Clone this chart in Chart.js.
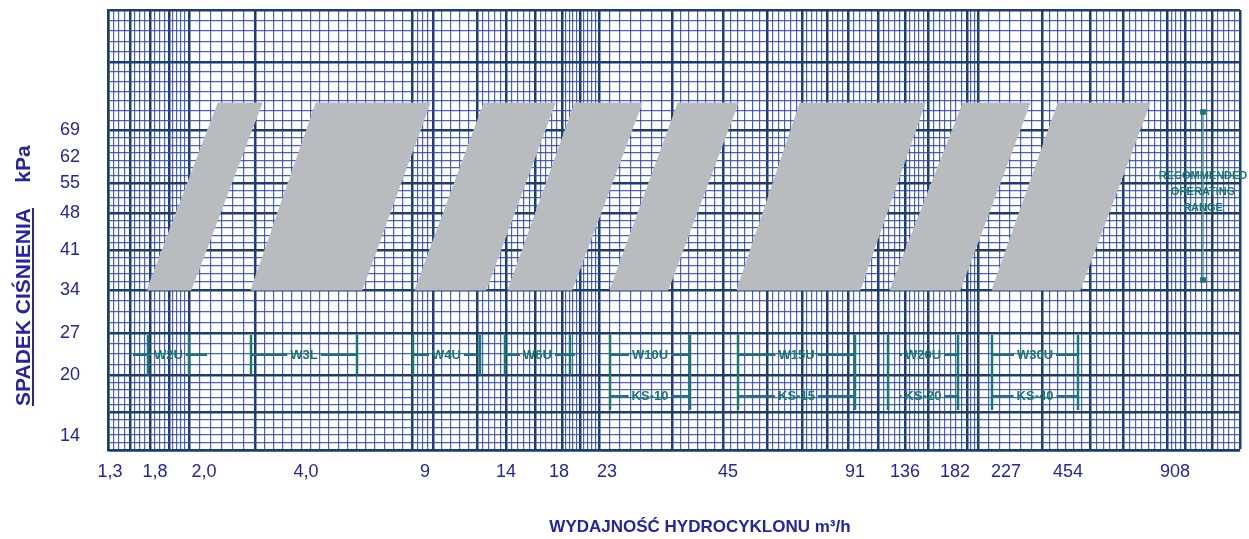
<!DOCTYPE html>
<html>
<head>
<meta charset="utf-8">
<script src="https://cdn.jsdelivr.net/npm/chart.js@4.4.1/dist/chart.umd.min.js"></script>
<style>
  html, body { margin: 0; padding: 0; background: #fff; }
  #wrap { width: 1249px; height: 539px; }
</style>
</head>
<body>
<div id="wrap"><canvas id="chart" width="1249" height="539"></canvas></div>
<script>
// paper units: x runs 0..1132 across the grid, y runs 0..440 up from the bottom edge

const xTickLabels = ["1,3", "1,8", "2,0", "4,0", "9", "14", "18", "23", "45", "91", "136", "182", "227", "454", "908"];
const xTickPos = [2, 47, 96, 198, 317, 398, 451, 499, 620, 747, 797, 847, 898, 960, 1067];

const yTickLabels = ["14", "20", "27", "34", "41", "48", "55", "62", "69"];
const yTickPos = [14, 75, 117, 160, 200, 237, 267, 293, 320];

// gray operating zones
const zoneBottom = 160;
const zoneTop = 347;
const zoneBottomLeft = [39, 143, 307, 400, 502, 629, 782, 884];
const zoneBottomRight = [83, 254, 378, 464, 560, 752, 852, 972];
const zoneTopLeft = [110, 208, 376, 467, 570, 692, 855, 950];
const zoneTopRight = [154, 322, 447, 534, 630, 817, 922, 1042];

// hydrocyclone ranges
const modelsTop = ["W2U", "W3L", "W4U", "W6U", "W10U", "W15U", "W20U", "W30U"];
const modelsBottom = ["", "", "", "", "KS-10", "KS-15", "KS-20", "KS-40"];
const rangeLeft = [40, 143, 305, 397, 502, 630, 780, 884];
const rangeRight = [81, 249, 372, 462, 582, 747, 850, 970];
const lineLeft = [25, 143, 305, 397, 502, 630, 792, 884];
const lineRight = [99, 249, 372, 467, 582, 747, 850, 970];
const rowTop = 95;
const rowBottom = 54;
const barTop = 115;
const barLowSingle = 75;
const barLowDouble = 40;

// recommended operating range marker
const recX = 1095;
const recLow = 170;
const recHigh = 338;
const recText = ["RECOMMENDED", "OPERATING", "RANGE"];
const recTextY = [274, 258, 242];

// grid paper layout (style only)
const gridX = [0, 22, 42, 61, 81, 147, 304, 325, 369, 398, 427, 454, 472, 491, 564, 615, 659, 694, 719, 740, 770, 797, 820, 859, 870, 934, 982, 1015, 1059, 1077, 1104, 1132];
const gridXStep = [5, 5, 5, 4, 11, 9, 5, 9, 6, 6, 5, 4, 4, 10, 8, 7, 6, 5, 5, 6, 6, 5, 6, 4, 10, 8, 7, 6, 5, 6, 6];
const gridY = [0, 38, 75, 117, 160, 200, 237, 267, 320, 388, 440];
const gridYParts = [5, 5, 4, 4, 5, 5, 4, 7, 7, 5];

const navy = "#1d3d70";
const minorBlue = "rgba(45, 70, 185, 0.85)";
const labelBlue = "#2424a4";
const teal = "#1a7a68";
const zoneGray = "#b9bcbf";

function buildGrid(majors, parts, labelPos, labels) {
  const ticks = [];
  for (let i = 0; i < majors.length - 1; i++) {
    const a = majors[i], b = majors[i + 1];
    for (let k = 1; k < parts[i]; k++) {
      ticks.push({ value: a + (b - a) * k / parts[i], kind: "minor" });
    }
  }
  majors.forEach((v) => ticks.push({ value: v, kind: "major" }));
  labelPos.forEach((v, i) => ticks.push({ value: v, kind: "label", text: labels[i] }));
  return ticks;
}

const xParts = gridXStep.map((s, i) => Math.max(1, Math.round((gridX[i + 1] - gridX[i]) / s)));
const xGridTicks = buildGrid(gridX, xParts, xTickPos, xTickLabels);
const yGridTicks = buildGrid(gridY, gridYParts, yTickPos, yTickLabels);

// measure labels so the range lines leave a gap for the text
const measureCtx = document.createElement("canvas").getContext("2d");
const markerFont = 'bold 13px "Liberation Sans", Arial, sans-serif';
measureCtx.font = markerFont;
function halfGap(label) {
  return measureCtx.measureText(label).width / 2 + 3;
}

function rowPoints(labels, y) {
  const pts = [];
  labels.forEach((lab, i) => {
    if (!lab) return;
    const mid = (rangeLeft[i] + rangeRight[i]) / 2;
    const h = halfGap(lab);
    pts.push({ x: lineLeft[i], y }, { x: mid - h, y }, { x: mid, y: null },
             { x: mid + h, y }, { x: lineRight[i], y }, { x: lineRight[i], y: null });
  });
  return pts;
}

const barPoints = [];
rangeLeft.forEach((l, i) => {
  const low = modelsBottom[i] ? barLowDouble : barLowSingle;
  [l, rangeRight[i]].forEach((x) => {
    barPoints.push({ x, y: barTop }, { x, y: low }, { x, y: null });
  });
});

const datasets = zoneBottomLeft.map((_, i) => ({
  data: [
    { x: zoneBottomLeft[i], y: zoneBottom },
    { x: zoneTopLeft[i], y: zoneTop },
    { x: zoneTopRight[i], y: zoneTop },
    { x: zoneBottomRight[i], y: zoneBottom },
    { x: zoneBottomLeft[i], y: zoneBottom }
  ],
  backgroundColor: zoneGray,
  borderColor: zoneGray,
  borderWidth: 1,
  fill: "shape",
  pointRadius: 0,
  tension: 0
}));

datasets.push({
  data: barPoints,
  borderColor: teal,
  borderWidth: 2.5,
  pointRadius: 0,
  spanGaps: false,
  fill: false
});
datasets.push({
  data: rowPoints(modelsTop, rowTop),
  borderColor: teal,
  borderWidth: 2,
  pointRadius: 0,
  spanGaps: false,
  fill: false
});
datasets.push({
  data: rowPoints(modelsBottom, rowBottom),
  borderColor: teal,
  borderWidth: 2,
  pointRadius: 0,
  spanGaps: false,
  fill: false
});
datasets.push({
  data: [{ x: recX, y: recLow }, { x: recX, y: recHigh }],
  borderColor: "#4a9d8a",
  borderWidth: 1.5,
  pointStyle: "rect",
  pointRadius: 3,
  pointBackgroundColor: teal,
  pointBorderColor: teal,
  fill: false
});

// text on the paper: model names, range note, axis titles
const paperText = {
  id: "paperText",
  afterDatasetsDraw(chart) {
    const { ctx } = chart;
    const sx = chart.scales.x, sy = chart.scales.y;
    ctx.save();
    ctx.fillStyle = teal;
    ctx.font = markerFont;
    ctx.textAlign = "center";
    ctx.textBaseline = "middle";
    modelsTop.forEach((lab, i) => {
      const mid = (rangeLeft[i] + rangeRight[i]) / 2;
      ctx.fillText(lab, sx.getPixelForValue(mid), sy.getPixelForValue(rowTop));
      if (modelsBottom[i]) {
        ctx.fillText(modelsBottom[i], sx.getPixelForValue(mid), sy.getPixelForValue(rowBottom));
      }
    });
    ctx.font = 'bold 11px "Liberation Sans", Arial, sans-serif';
    recText.forEach((t, i) => {
      ctx.fillText(t, sx.getPixelForValue(recX), sy.getPixelForValue(recTextY[i]));
    });
    ctx.restore();
  },
  afterDraw(chart) {
    const { ctx } = chart;
    ctx.save();
    ctx.fillStyle = labelBlue;
    ctx.strokeStyle = labelBlue;

    // y title, rotated
    ctx.translate(30, 0);
    ctx.rotate(-Math.PI / 2);
    ctx.textBaseline = "alphabetic";
    ctx.textAlign = "center";
    ctx.font = 'bold 21px "Liberation Sans", Arial, sans-serif';
    ctx.fillText("SPADEK CIŚNIENIA", -307, 0);
    const w = ctx.measureText("SPADEK CIŚNIENIA").width;
    ctx.lineWidth = 2;
    ctx.beginPath();
    ctx.moveTo(-307 - w / 2, 3);
    ctx.lineTo(-307 + w / 2, 3);
    ctx.stroke();
    ctx.font = 'bold 21px "Liberation Sans", Arial, sans-serif';
    ctx.fillText("kPa", -164, 0);
    ctx.restore();

    // x title
    ctx.save();
    ctx.fillStyle = labelBlue;
    ctx.font = 'bold 17px "Liberation Sans Narrow", "Liberation Sans", Arial, sans-serif';
    ctx.textAlign = "center";
    ctx.textBaseline = "middle";
    ctx.fillText("WYDAJNOŚĆ HYDROCYKLONU m³/h", 700, 527);
    ctx.restore();
  }
};

function gridColor(c) {
  if (!c.tick) return navy;
  if (c.tick.kind === "major") return navy;
  if (c.tick.kind === "minor") return minorBlue;
  return "rgba(0,0,0,0)";
}
function gridWidth(c) {
  if (!c.tick) return 1;
  return c.tick.kind === "major" ? 2.5 : 1.2;
}

const tickFont = { family: '"Liberation Sans Narrow", "Liberation Sans", Arial, sans-serif', size: 18 };

new Chart(document.getElementById("chart").getContext("2d"), {
  type: "line",
  data: { datasets },
  options: {
    responsive: false,
    animation: false,
    events: [],
    layout: { padding: { top: 10, right: 9, left: 0, bottom: 0 } },
    plugins: {
      legend: { display: false },
      tooltip: { enabled: false }
    },
    scales: {
      x: {
        type: "linear",
        min: 0,
        max: 1132,
        afterBuildTicks: (scale) => { scale.ticks = xGridTicks.map((t) => ({ ...t })); },
        afterFit: (scale) => {
          scale.height = 89;
          scale.paddingLeft = 0;
          scale.paddingRight = 0;
        },
        grid: { color: gridColor, lineWidth: gridWidth, drawTicks: false },
        border: { display: true, color: navy, width: 2.5 },
        ticks: {
          autoSkip: false,
          maxRotation: 0,
          minRotation: 0,
          padding: 11,
          color: labelBlue,
          font: tickFont,
          callback: (v, i, ticks) => (ticks[i].kind === "label" ? ticks[i].text : "")
        }
      },
      y: {
        type: "linear",
        min: 0,
        max: 440,
        afterBuildTicks: (scale) => { scale.ticks = yGridTicks.map((t) => ({ ...t })); },
        afterFit: (scale) => {
          scale.width = 108;
          scale.paddingTop = 0;
          scale.paddingBottom = 0;
        },
        grid: { color: gridColor, lineWidth: gridWidth, drawTicks: false },
        border: { display: true, color: navy, width: 2.5 },
        ticks: {
          autoSkip: false,
          padding: 28,
          color: labelBlue,
          font: tickFont,
          callback: (v, i, ticks) => (ticks[i].kind === "label" ? ticks[i].text : "")
        }
      }
    }
  },
  plugins: [paperText]
});
</script>
</body>
</html>
